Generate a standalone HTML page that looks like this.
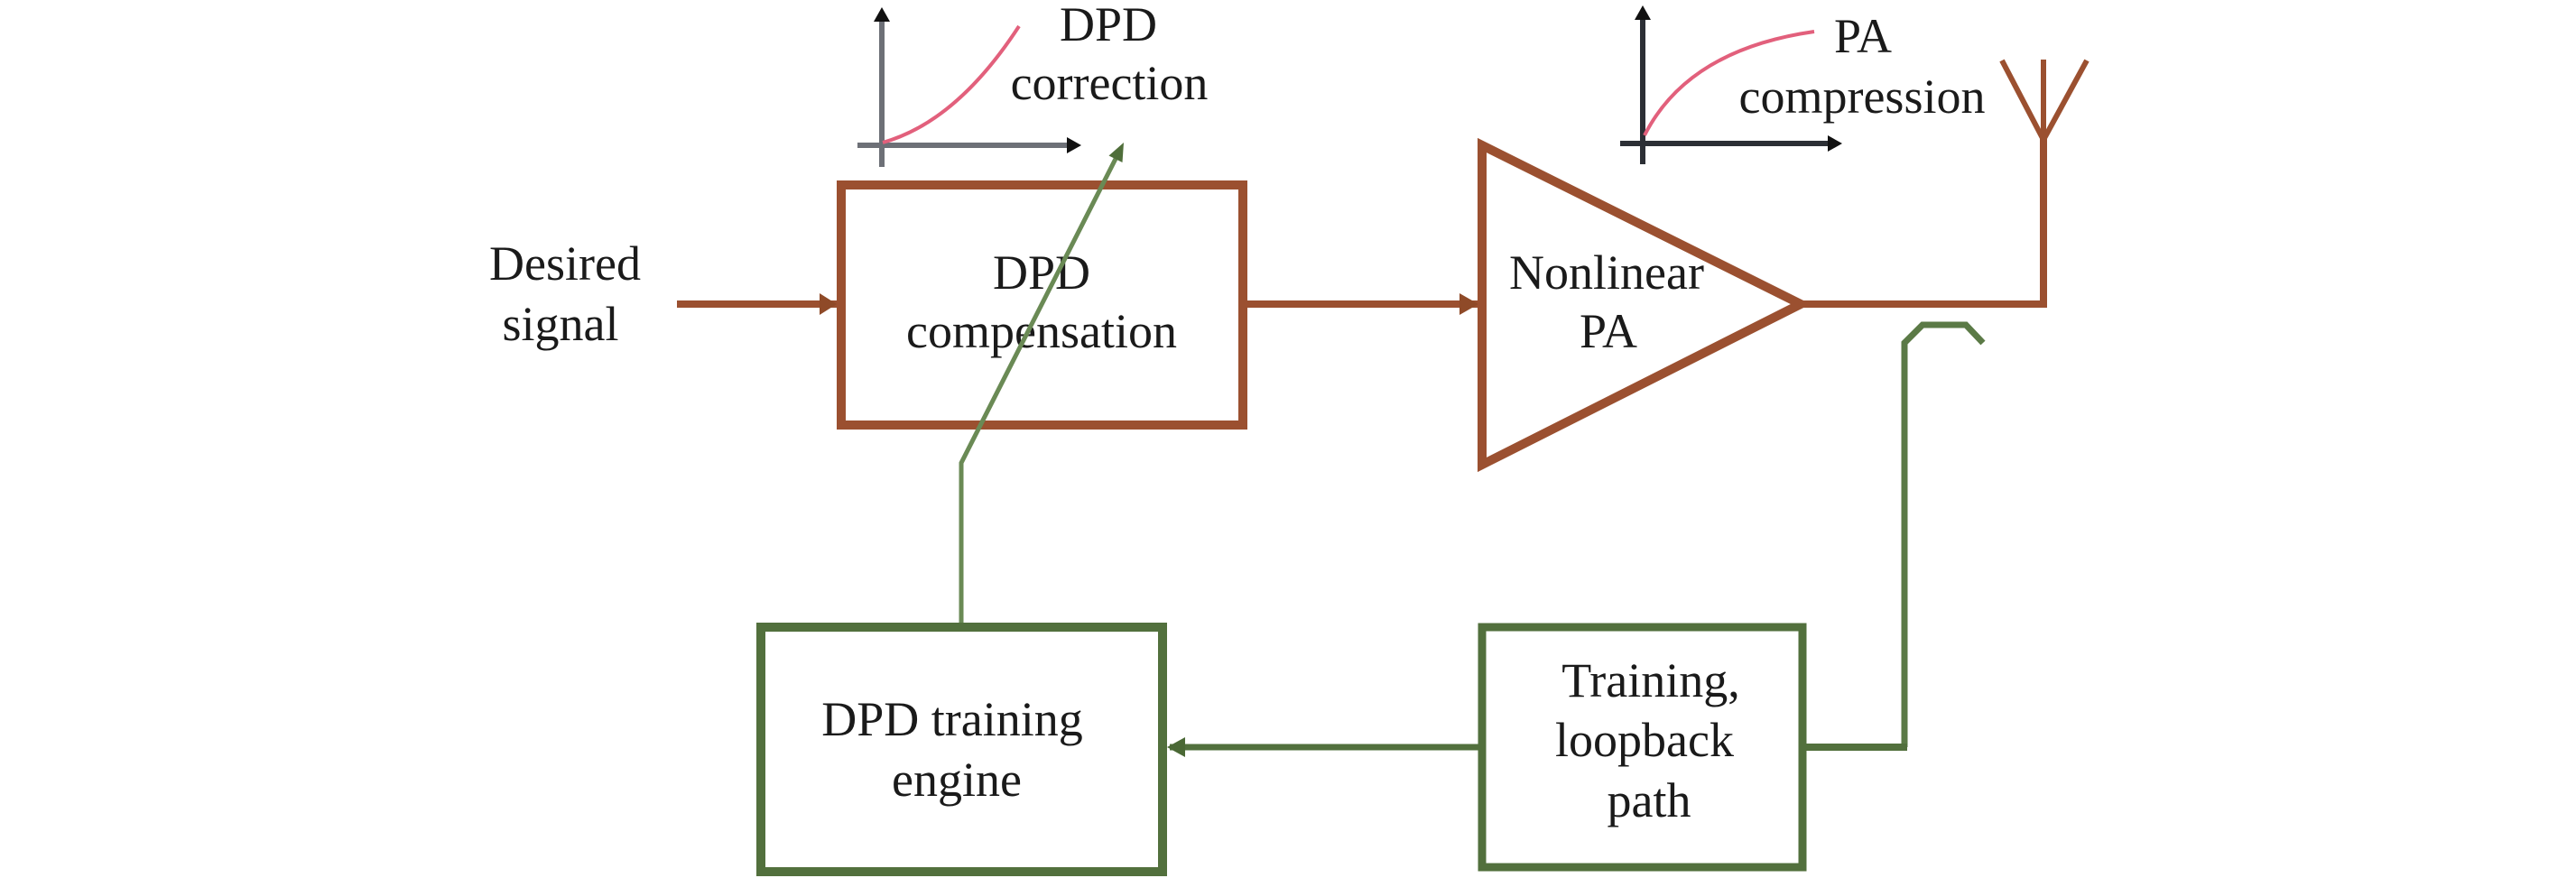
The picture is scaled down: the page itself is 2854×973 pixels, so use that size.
<!DOCTYPE html>
<html>
<head>
<meta charset="utf-8">
<style>
  html, body { margin: 0; padding: 0; background: #ffffff; }
  body { width: 2854px; height: 973px; overflow: hidden; }
  svg { display: block; }
  text { font-family: "Liberation Serif", "Times New Roman", serif; font-size: 54px; fill: #1a1a1a; }
</style>
</head>
<body>
<svg width="2854" height="973" viewBox="0 0 2854 973" xmlns="http://www.w3.org/2000/svg">
  <!-- Desired signal -->
  <text x="626" y="310" text-anchor="middle">Desired</text>
  <text x="621" y="377" text-anchor="middle">signal</text>
  <line x1="750" y1="337" x2="928" y2="337" stroke="#9b5030" stroke-width="8"/>
  <polygon points="927,337 908,325 908,349" fill="#8f4a28"/>

  <!-- DPD compensation box -->
  <rect x="932" y="205" width="445" height="266" fill="none" stroke="#9b5030" stroke-width="10"/>
  <text x="1154" y="320" text-anchor="middle">DPD</text>
  <text x="1154" y="385" text-anchor="middle">compensation</text>

  <!-- connector to PA -->
  <line x1="1377" y1="337" x2="1638" y2="337" stroke="#9b5030" stroke-width="8"/>
  <polygon points="1638,337 1617,325 1617,349" fill="#8f4a28"/>

  <!-- Nonlinear PA triangle -->
  <polygon points="1642,161 1995,337 1642,515" fill="none" stroke="#9b5030" stroke-width="10" stroke-linejoin="miter"/>
  <text x="1780" y="320" text-anchor="middle">Nonlinear</text>
  <text x="1782" y="385" text-anchor="middle">PA</text>

  <!-- output line and antenna -->
  <polyline points="1995,337 2264,337 2264,150" fill="none" stroke="#9b5030" stroke-width="8"/>
  <line x1="2264" y1="155" x2="2264" y2="66" stroke="#9b5030" stroke-width="6"/>
  <line x1="2218" y1="67" x2="2264" y2="155" stroke="#9b5030" stroke-width="6"/>
  <line x1="2312" y1="67" x2="2264" y2="155" stroke="#9b5030" stroke-width="6"/>

  <!-- Graph 1: DPD correction -->
  <line x1="977" y1="185" x2="977" y2="20" stroke="#6d7077" stroke-width="6"/>
  <polygon points="977,8 968,24 986,24" fill="#111"/>
  <line x1="950" y1="161" x2="1183" y2="161" stroke="#6d7077" stroke-width="6"/>
  <polygon points="1198,161 1182,152 1182,170" fill="#111"/>
  <path d="M978,158 Q1060,135 1129,29" fill="none" stroke="#e2607c" stroke-width="4"/>
  <text x="1228" y="45" text-anchor="middle">DPD</text>
  <text x="1229" y="110" text-anchor="middle">correction</text>

  <!-- Graph 2: PA compression -->
  <line x1="1820" y1="182" x2="1820" y2="20" stroke="#2c2f35" stroke-width="6"/>
  <polygon points="1820,6 1811,22 1829,22" fill="#111"/>
  <line x1="1795" y1="159" x2="2027" y2="159" stroke="#2c2f35" stroke-width="6"/>
  <polygon points="2041,159 2025,150 2025,168" fill="#111"/>
  <path d="M1822,150 Q1870,55 2010,35" fill="none" stroke="#e2607c" stroke-width="4"/>
  <text x="2064" y="58" text-anchor="middle">PA</text>
  <text x="2063" y="125" text-anchor="middle">compression</text>

  <!-- Green loopback coupler -->
  <polyline points="2110,828 2110,380 2130,360 2178,360 2197,380" fill="none" stroke="#5b7a46" stroke-width="7" stroke-linejoin="miter"/>

  <!-- Training, loopback path box -->
  <rect x="1642" y="695" width="355" height="266" fill="none" stroke="#52703d" stroke-width="9"/>
  <text x="1829" y="772" text-anchor="middle">Training,</text>
  <text x="1822" y="838" text-anchor="middle">loopback</text>
  <text x="1827" y="905" text-anchor="middle">path</text>
  <line x1="1997" y1="828" x2="2113" y2="828" stroke="#52703d" stroke-width="8"/>

  <!-- connector to DPD training engine -->
  <line x1="1642" y1="828" x2="1296" y2="828" stroke="#52703d" stroke-width="7"/>
  <polygon points="1293,828 1313,817 1313,839" fill="#4a6835"/>

  <!-- DPD training engine box -->
  <rect x="843" y="695" width="445" height="271" fill="none" stroke="#52703d" stroke-width="10"/>
  <text x="1055" y="815" text-anchor="middle">DPD training</text>
  <text x="1060" y="882" text-anchor="middle">engine</text>

  <!-- green control arrow through DPD box -->
  <polyline points="1065,690 1065,513 1237,174" fill="none" stroke="#6a8a55" stroke-width="5"/>
  <polygon points="1245,158 1243.5,180 1228.5,172.5" fill="#4f6e3a"/>
</svg>
</body>
</html>
